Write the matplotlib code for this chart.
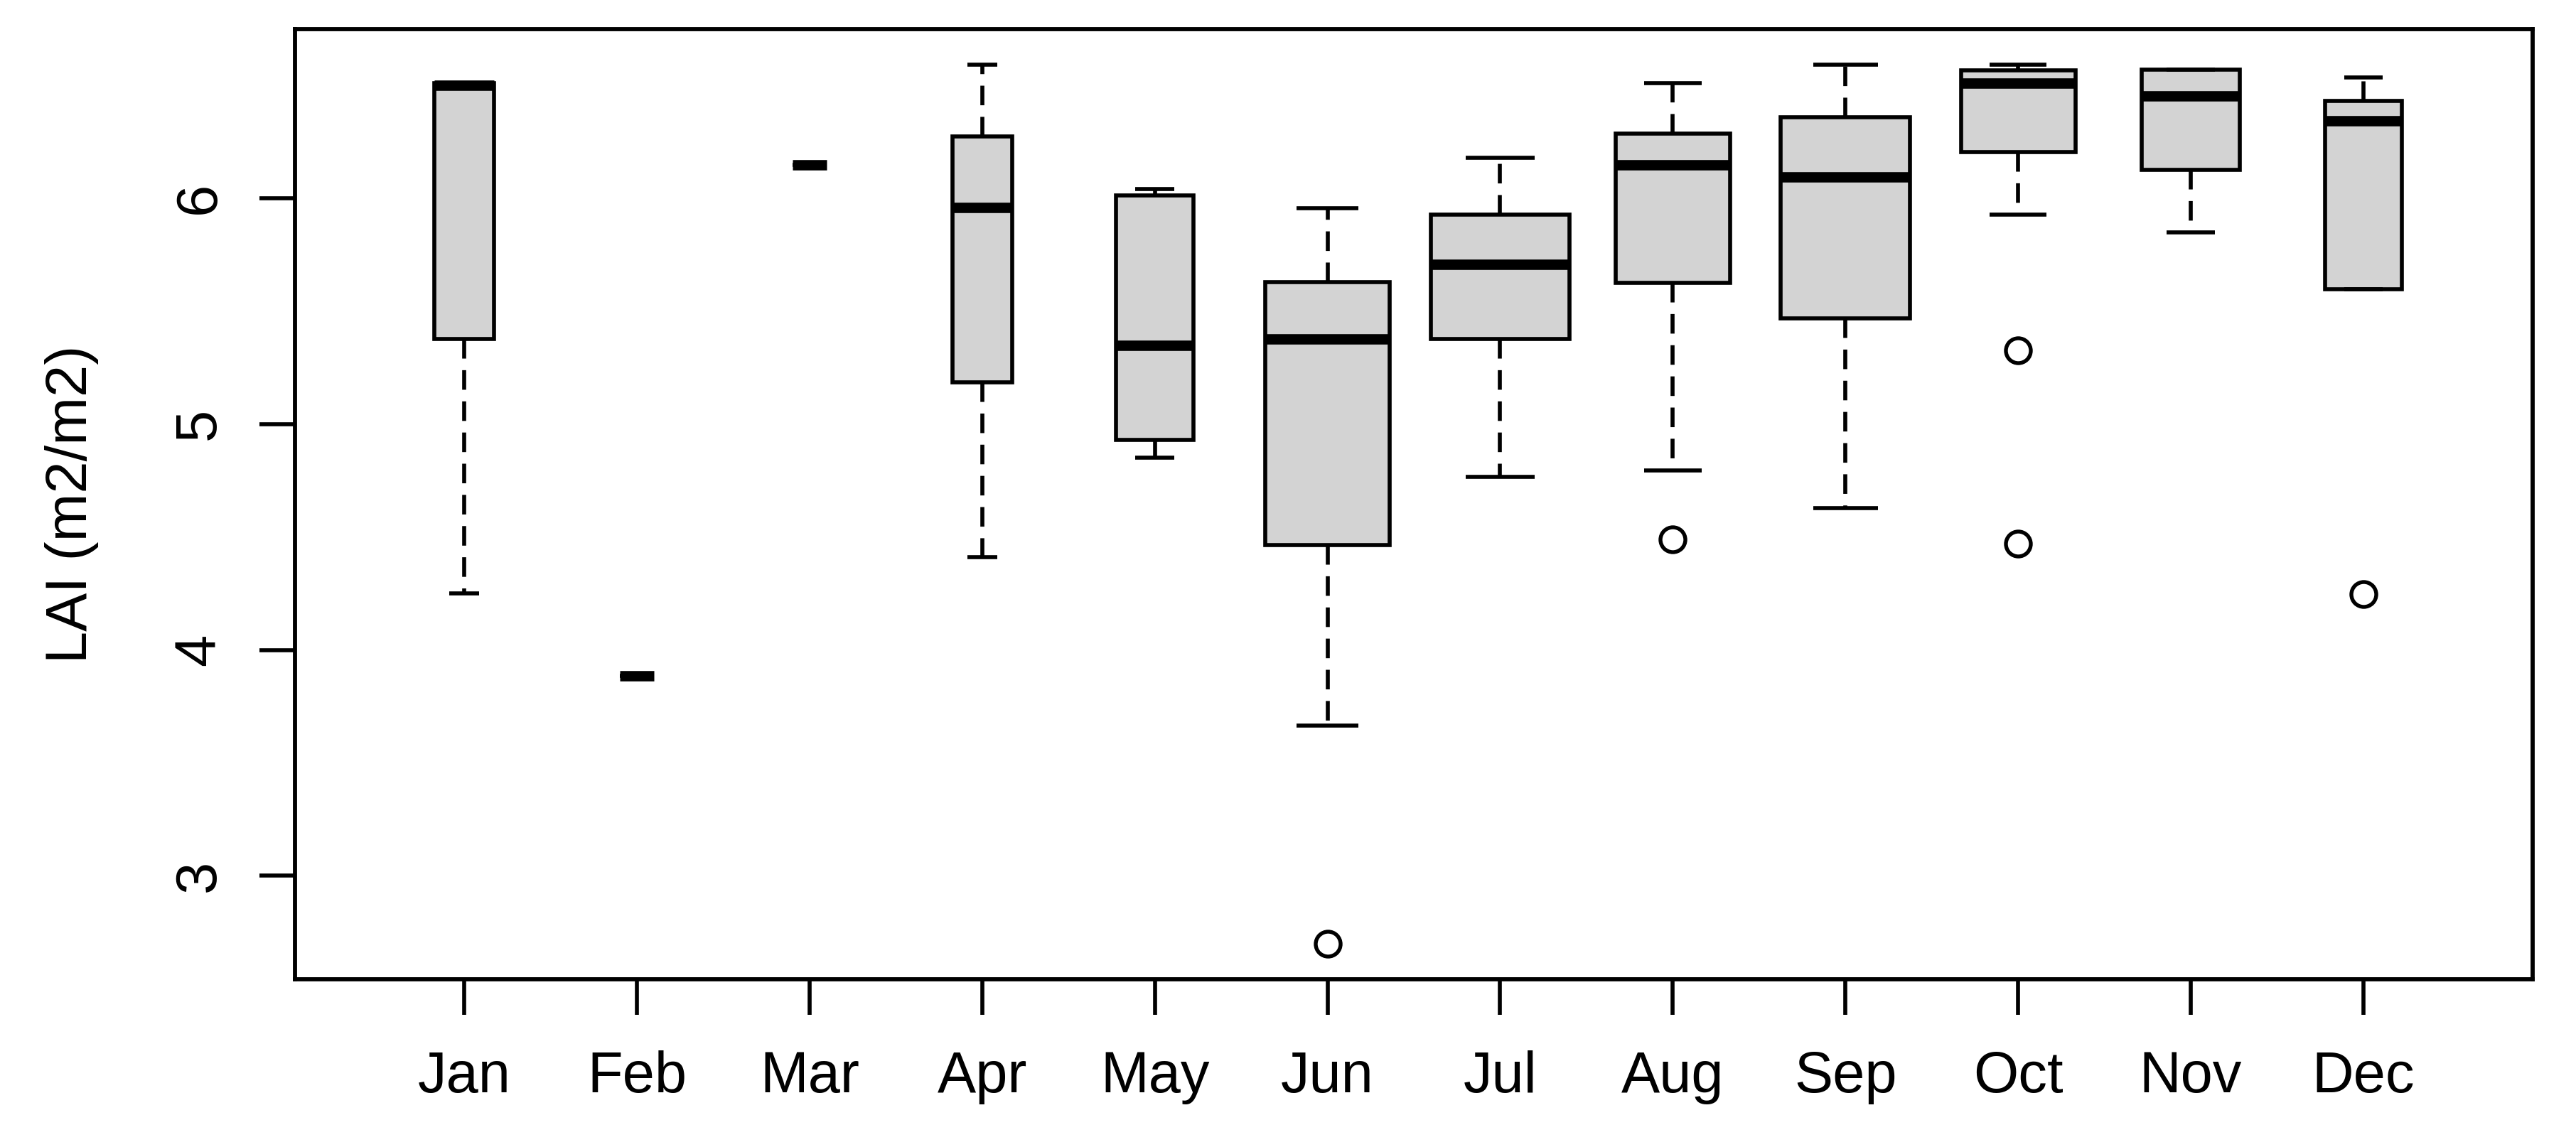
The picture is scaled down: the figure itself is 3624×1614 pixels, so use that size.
import matplotlib
matplotlib.use('Agg')
import matplotlib.pyplot as plt
import numpy as np

# ---- data ----
months = ['Jan', 'Feb', 'Mar', 'Apr', 'May', 'Jun',
          'Jul', 'Aug', 'Sep', 'Oct', 'Nov', 'Dec']
n_obs = [3, 1, 1, 3, 5, 13, 16, 11, 14, 11, 8, 5]
whislo = [4.250, 3.886, 6.148, 4.410, 4.850, 3.666, 4.767, 4.794, 4.629, 5.928, 5.847, 5.595]
q1 = [5.375, 3.886, 6.148, 5.183, 4.931, 4.465, 5.376, 5.625, 5.469, 6.204, 6.124, 5.595]
med = [6.500, 3.886, 6.148, 5.957, 5.349, 5.375, 5.707, 6.148, 6.092, 6.510, 6.453, 6.342]
q3 = [6.510, 3.886, 6.148, 6.273, 6.013, 5.627, 5.928, 6.286, 6.357, 6.566, 6.567, 6.429]
whishi = [6.510, 3.886, 6.148, 6.592, 6.040, 5.955, 6.177, 6.508, 6.592, 6.592, 6.567, 6.535]
fliers = [[], [], [], [], [], [2.698], [], [4.489], [], [5.326, 4.470], [], [4.248]]
yticks = [3, 4, 5, 6]
ylabel = 'LAI (m2/m2)'

plt.rcParams['font.family'] = ['Liberation Sans', 'DejaVu Sans']

fig = plt.figure(figsize=(12.08, 5.38), dpi=300)
ax = fig.add_axes([415 / 3624, 1 - 1378 / 1614, (3563 - 415) / 3624, (1378 - 41) / 1614])

stats = []
for i in range(len(months)):
    stats.append(dict(label=months[i], whislo=whislo[i], q1=q1[i], med=med[i],
                      q3=q3[i], whishi=whishi[i], fliers=fliers[i]))

pos = np.arange(1, len(months) + 1)
sq = np.sqrt(np.array(n_obs, dtype=float))
widths = 0.8 * sq / sq.max()

lw = 1.35
ax.bxp(stats, positions=pos, widths=widths, capwidths=widths * 0.5,
       patch_artist=True, showfliers=True,
       boxprops=dict(facecolor='#d3d3d3', edgecolor='black', linewidth=lw),
       medianprops=dict(color='black', linewidth=3.5, solid_capstyle='butt'),
       whiskerprops=dict(color='black', linewidth=lw, linestyle=(0, (4.9, 2.9))),
       capprops=dict(color='black', linewidth=lw, solid_capstyle='butt'),
       flierprops=dict(marker='o', markersize=8.4, markerfacecolor='none',
                       markeredgecolor='black', markeredgewidth=1.3, linestyle='none'))

# R-like axis limits (4% expansion)
allv = np.concatenate([whislo, whishi] + [np.array(f) for f in fliers if len(f)])
lo, hi = allv.min(), allv.max()
rng = hi - lo
ax.set_ylim(lo - 0.04 * rng, hi + 0.04 * rng)
ax.set_xlim(0.5 - 0.04 * 12, 12.5 + 0.04 * 12)

ax.set_xticks(pos)
ax.set_xticklabels(months)
ax.set_yticks(yticks)
ax.set_yticklabels([str(v) for v in yticks])
for lab in ax.get_yticklabels():
    lab.set_rotation(90)
    lab.set_va('center')

ax.tick_params(axis='both', direction='out', length=12, width=1.35,
               labelsize=19.5, colors='black')
ax.tick_params(axis='x', pad=12)
ax.tick_params(axis='y', pad=11)
for s in ax.spines.values():
    s.set_linewidth(1.4)
    s.set_color('black')

ax.set_ylabel(ylabel, fontsize=19.5)
ax.yaxis.set_label_coords(-0.0877, 0.5)

fig.savefig('out.png', dpi=300, facecolor='white')
